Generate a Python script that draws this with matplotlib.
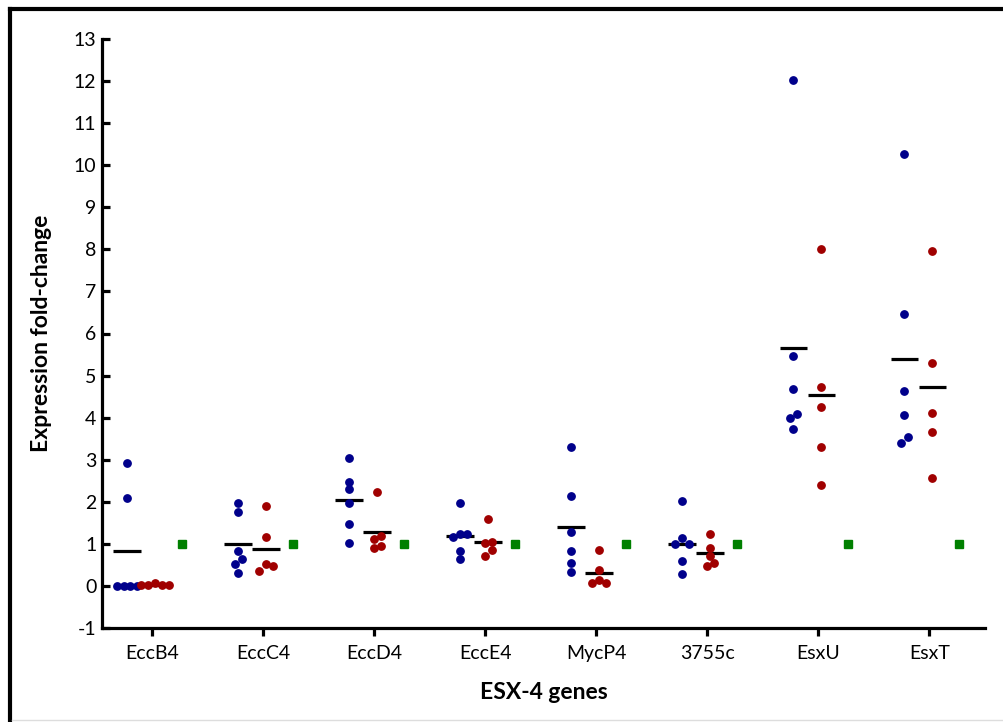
import numpy as np
import matplotlib.pyplot as plt
from matplotlib.lines import Line2D

plt.rcParams['font.family'] = ['Lato', 'DejaVu Sans']
plt.rcParams['axes.unicode_minus'] = False

genes = ['EccB4', 'EccC4', 'EccD4', 'EccE4', 'MycP4', '3755c', 'EsxU', 'EsxT']

# blue group (6 replicates per gene)
blue_vals = [
    [0.0, 0.0, 0.0, 0.0, 2.09, 2.93],
    [1.97, 1.75, 0.84, 0.63, 0.52, 0.30],
    [3.03, 2.46, 2.30, 1.97, 1.47, 1.02],
    [1.97, 1.24, 1.24, 1.16, 0.82, 0.63],
    [3.30, 2.13, 1.29, 0.82, 0.54, 0.33],
    [2.02, 1.13, 1.00, 1.00, 0.59, 0.28],
    [12.03, 5.47, 4.67, 4.09, 3.98, 3.72],
    [10.27, 6.47, 4.64, 4.06, 3.53, 3.39],
]

# red group (5 replicates per gene)
red_vals = [
    [0.02, 0.07, 0.03, 0.02, 0.02],
    [1.89, 1.17, 0.52, 0.48, 0.36],
    [2.23, 1.18, 1.11, 0.94, 0.90],
    [1.60, 1.04, 1.02, 0.85, 0.72],
    [0.85, 0.37, 0.13, 0.07, 0.07],
    [1.23, 0.91, 0.72, 0.55, 0.48],
    [8.01, 4.74, 4.25, 3.31, 2.40],
    [7.96, 5.29, 4.10, 3.67, 2.57],
]

# green reference (calibrator = 1)
green_vals = [1, 1, 1, 1, 1, 1, 1, 1]

blue_c = '#00008B'
red_c = '#A00000'
green_c = '#008000'


def swarm_offsets(vals, gap=0.145, step=0.062):
    # spread points that would overlap, GraphPad style
    vals = np.asarray(vals, dtype=float)
    order = np.argsort(-vals, kind='stable')
    offs = np.zeros(len(vals))
    clusters = []
    cur = [order[0]]
    for i in order[1:]:
        if vals[cur[-1]] - vals[i] < gap:
            cur.append(i)
        else:
            clusters.append(cur)
            cur = [i]
    clusters.append(cur)
    for c in clusters:
        n = len(c)
        if n % 2:
            slots = [0] + [s for k in range(1, n // 2 + 1) for s in (k, -k)]
        else:
            slots = [s for k in range(n // 2) for s in (k + 0.5, -(k + 0.5))]
        for idx, s in zip(c, slots):
            offs[idx] = s * step
    return offs


fig = plt.figure(figsize=(10.04, 7.22), dpi=100)
ax = fig.add_axes([102 / 1004, 1 - 628 / 722, 883 / 1004, 589 / 722])

x = np.arange(len(genes))
half = 0.125
for i in range(len(genes)):
    for vals, dx, col in [(blue_vals[i], -0.225, blue_c), (red_vals[i], 0.027, red_c)]:
        xs = x[i] + dx + swarm_offsets(vals)
        ax.plot(xs, vals, 'o', color=col, ms=5.3, mec=col, zorder=3, clip_on=False)
        m = np.mean(vals)
        ax.plot([x[i] + dx - half, x[i] + dx + half], [m, m], color='black',
                lw=2.3, solid_capstyle='butt', zorder=2)
ax.plot(x + 0.27, green_vals, 's', color=green_c, ms=5.2, zorder=3)

ax.set_xlim(-0.45, 7.5)
ax.set_ylim(-1, 13)
ax.set_yticks(range(-1, 14))
ax.set_xticks(x)
ax.set_xticklabels(genes)

for s in ['top', 'right']:
    ax.spines[s].set_visible(False)
for s in ['left', 'bottom']:
    ax.spines[s].set_linewidth(2.3)
ax.tick_params(axis='y', direction='in', length=6, width=2.3, labelsize=14, pad=4)
ax.tick_params(axis='x', direction='out', length=6, width=2.3, labelsize=14, pad=6)

ax.set_ylabel('Expression fold-change', fontsize=16.5, fontweight='bold')
ax.yaxis.set_label_coords(-0.057, 0.5)
ax.set_xlabel('ESX-4 genes', fontsize=16.5, fontweight='bold')
ax.xaxis.set_label_coords(0.5, -0.092)

# outer frame
fig.add_artist(Line2D([10 / 1004, 10 / 1004], [0, 1 - 9 / 722], color='black', lw=3,
                      transform=fig.transFigure))
fig.add_artist(Line2D([10 / 1004, 1], [1 - 9 / 722, 1 - 9 / 722], color='black', lw=3,
                      transform=fig.transFigure))
fig.add_artist(Line2D([12 / 1004, 1], [2 / 722, 2 / 722], color='#dddddd', lw=1,
                      transform=fig.transFigure))

fig.savefig('out.png', dpi=100)
